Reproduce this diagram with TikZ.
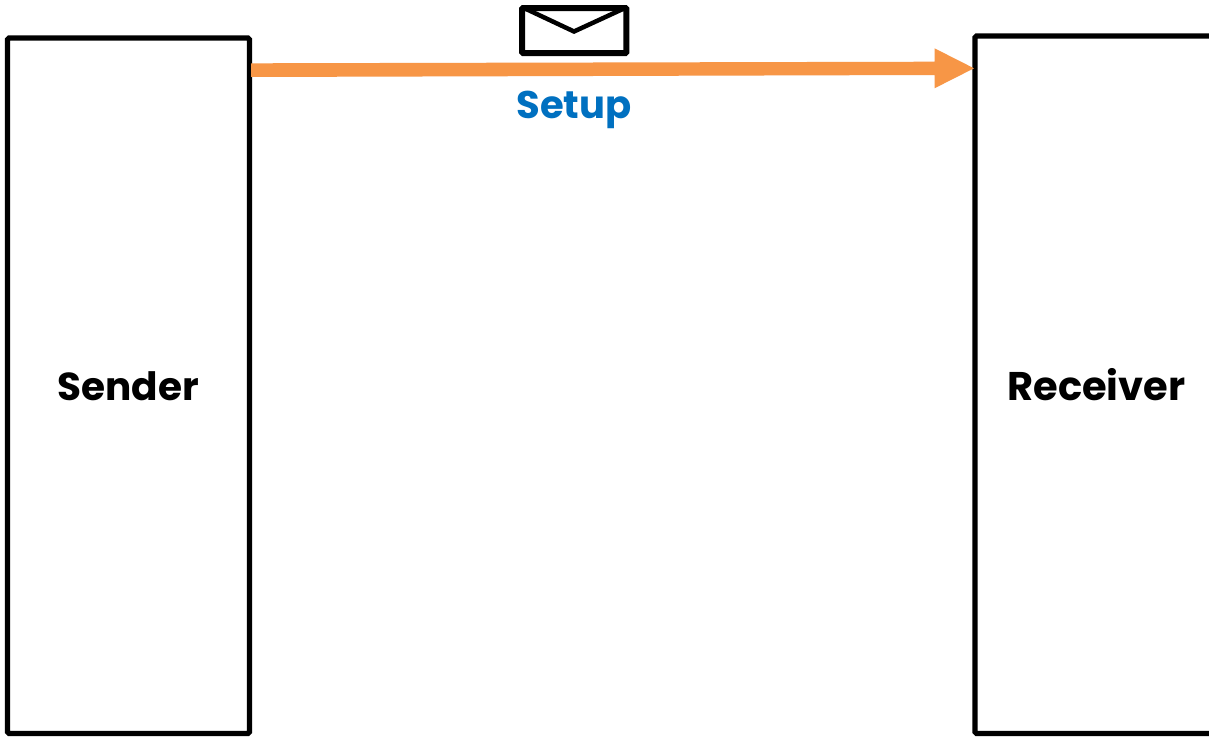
\documentclass[tikz,border=0pt]{standalone}
\usepackage{fontspec}
\setmainfont{Poppins}
\definecolor{arrowor}{HTML}{F79646}
\definecolor{setupblue}{HTML}{0070C0}
\tikzset{
  x=1pt,y=-1pt,
  party/.style={draw=black,line width=5.2pt,rounded corners=1.5pt,fill=white},
  lbl/.style={inner sep=0pt,anchor=base},
}
\begin{document}
\begin{tikzpicture}
\useasboundingbox (0,0) rectangle (1209,736);
\fill[white] (0,0) rectangle (1209,736);
\draw[party] (7.5,38) rectangle (249.5,733.5);
\draw[party] (975,36) rectangle (1300,733.5);
\fill[arrowor] (251,63.3) -- (934.5,61.7) -- (934.5,48.3) -- (974,68.3) -- (934.5,88.3) -- (934.5,75) -- (251,77) -- cycle;
\draw[black,line width=6pt,rounded corners=1pt,fill=white] (522,8) rectangle (626.3,53);
\draw[black,line width=4.5pt] (524,8) -- (574,31.5) -- (625,8);
\node[lbl,text=setupblue,font=\fontsize{38.5}{44}\selectfont\bfseries] (setup) at (574,118) {Setup};
\node[lbl,font=\fontsize{39}{44}\selectfont\bfseries] (sender) at (128,400) {Sender};
\node[lbl,font=\fontsize{40}{44}\selectfont\bfseries] (receiver) at (1096.5,400) {Receiver};
\end{tikzpicture}
\end{document}
